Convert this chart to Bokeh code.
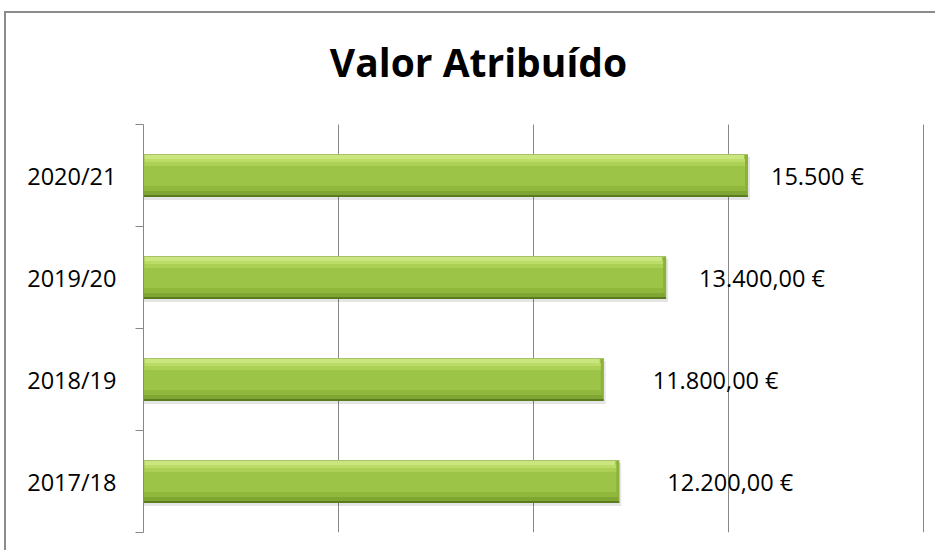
from bokeh.plotting import figure
from bokeh.models import FixedTicker
from bokeh.core.properties import value
from bokeh.embed import file_html
from bokeh.resources import INLINE

categories = ["2017/18", "2018/19", "2019/20", "2020/21"]
values = [12200, 11800, 13400, 15500]
value_labels = ["12.200,00 €", "11.800,00 €", "13.400,00 €", "15.500 €"]
label_gap_px = [48, 49, 33, 23]
grid_ticks = [5000, 10000, 15000, 20000]
title_text = "Valor Atribuído"

FONT = "Open Sans"
GREY = "#888888"

# geometry (pixels)
FRAME_W = 782
PLOT_H = 408                   # height of the bar area
TOP_PX = 111                   # title area above the bar area
BAND_PX = PLOT_H / len(categories)
X_END = 20000 * FRAME_W / 780.0
BAR_PX = 43
PXX = X_END / FRAME_W          # data units per horizontal pixel
PXY = 1.0 / BAND_PX            # data units per vertical pixel

pos = list(range(1, len(categories) + 1))
bounds = [c - 0.5 for c in pos] + [pos[-1] + 0.5]
y_lo, y_hi = bounds[0], bounds[-1]
Y_END = y_hi + TOP_PX * PXY

W, Hh = 931, 539
p = figure(width=W, height=Hh, x_range=(0, X_END), y_range=(y_lo, Y_END),
           output_backend="svg", toolbar_location=None, x_axis_location=None,
           title=None,
           min_border_left=137, min_border_right=W - 137 - FRAME_W, min_border_top=0,
           min_border_bottom=Hh - TOP_PX - PLOT_H, margin=(11, 0, 0, 4),
           styles={"border-top": "2px solid #8c8c8c", "border-left": "2px solid #8c8c8c"})
p.outline_line_color = None
p.background_fill_color = "white"
p.border_fill_color = "white"

# vertical grid lines, limited to the bar area
p.grid.visible = False
p.segment(x0=grid_ticks, x1=grid_ticks, y0=y_lo, y1=y_hi, line_color=GREY, line_width=1)

# y axis
ax = p.yaxis[0]
ax.bounds = (y_lo, y_hi)
ax.ticker = FixedTicker(ticks=pos, minor_ticks=bounds)
ax.major_label_overrides = {c: lab for c, lab in zip(pos, categories)}
ax.major_tick_out = 0
ax.major_tick_in = 0
ax.major_tick_line_color = None
ax.minor_tick_out = 8
ax.minor_tick_in = 0
ax.minor_tick_line_color = GREY
ax.axis_line_color = GREY
ax.major_label_text_font = FONT
ax.major_label_text_font_size = "23.5px"
ax.major_label_text_color = "black"
ax.major_label_standoff = 19

Hbar = BAR_PX * PXY
top_off = Hbar / 2

def band(s_px, e_px, color, l_px=0, r_px=0, alpha=1.0):
    yc = [c + top_off - (s_px + e_px) / 2 * PXY for c in pos]
    p.hbar(y=yc, left=l_px * PXX, right=[v - r_px * PXX for v in values],
           height=(e_px - s_px) * PXY, fill_color=color, fill_alpha=alpha, line_color=None)

# shadow
p.hbar(y=[c - 3 * PXY for c in pos], left=0, right=[v + 2 * PXX for v in values],
       height=Hbar, fill_color="black", fill_alpha=0.10, line_color=None)
# gradient bands of the bar
band(0, 43, "#9cc446")
band(0, 1, "#a7c26a")
band(41, 43, "#5b7b1f")
band(1, 41, "#8cb23c", 0, 0)
band(1, 41, "#9cc446", 0, 3)
band(1, 5, "#cbe67e", 1, 4)
band(5, 8, "#bcdc68", 1, 3)
band(8, 12, "#accf56", 1, 3)
band(32, 37, "#90b83d", 0, 3)
band(37, 41, "#7fa532", 0, 1)

# data labels
p.text(x=values, y=pos, text=value_labels, x_offset=label_gap_px,
       text_baseline="middle", text_align="left", text_font=value(FONT),
       text_font_size="23.5px", text_color="black")

# chart title, centred over the chart area
p.text(x=[335 * PXX], y=[y_hi + 63 * PXY], text=[title_text],
       text_align="center", text_baseline="alphabetic", text_font=value(FONT),
       text_font_size="39px", text_font_style="bold", text_color="black")

open("out.html", "w").write(file_html(p, INLINE))
